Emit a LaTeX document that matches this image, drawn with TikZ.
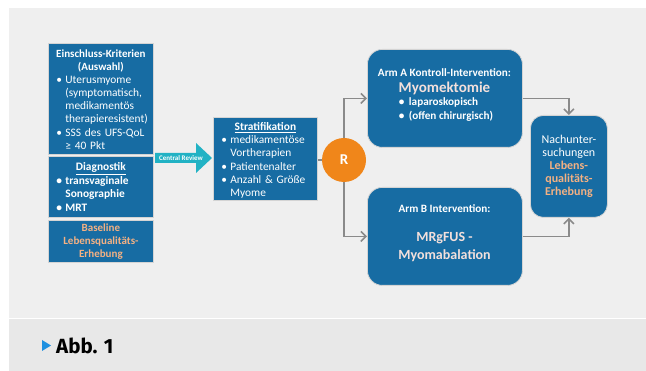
\documentclass[tikz,border=0pt]{standalone}
\usepackage{fontspec}
\setmainfont{Carlito}
\newfontfamily\capfont{Fira Sans}
\usetikzlibrary{arrows.meta}
\definecolor{boxblue}{HTML}{176CA3}
\definecolor{boxedge}{HTML}{D4D4D4}
\definecolor{bggray}{HTML}{EFEFEF}
\definecolor{capgray}{HTML}{E8E8E8}
\definecolor{conngray}{HTML}{8A8A8A}
\definecolor{rorange}{HTML}{F0861A}
\definecolor{peach}{HTML}{F4B183}
\definecolor{lightpeach}{HTML}{F3E0DC}
\definecolor{crcyan}{HTML}{22B2C4}
\definecolor{capblue}{HTML}{1E90E0}
\newcommand\bitem[1]{\par\noindent\makebox[9pt][l]{•}\begin{tabular}[t]{@{}l@{}}#1\end{tabular}\par}
\newcommand\ctrline[1]{\par\noindent\makebox[\linewidth]{#1}\par}
\begin{document}
\begin{tikzpicture}[x=1pt,y=-1pt,
  box/.style={draw=boxedge, line width=0.8pt, fill=boxblue, text=white, anchor=north west, inner sep=0pt, font=\fontsize{11.4}{13}\selectfont},
  rbox/.style={box, rounded corners=15pt},
  lbl/.style={text=white, inner sep=0pt},
  conn/.style={draw=conngray, line width=1.6pt},
  arr/.style={conn, -{Straight Barb[length=5pt,width=10pt]}}]
\useasboundingbox (0,0) rectangle (646,371);
\fill[white] (0,0) rectangle (646,371);
\fill[bggray] (9,8) rectangle (646,318);
\fill[capgray] (9,319) rectangle (646,371);

% left column
\node[box, minimum width=105pt, minimum height=111pt, text width=89pt] (eins) at (48,43)
  {\ctrline{\bfseries\fontsize{11}{13}\selectfont Einschluss-Kriterien}\ctrline{\bfseries\fontsize{11}{13}\selectfont (Auswahl)}%
   \bitem{Uterusmyome\\(symptomatisch,\\medikamentös\\therapieresistent)}%
   \bitem{SSS des UFS-QoL\\≥ 40 Pkt}};
\node[box, minimum width=105pt, minimum height=61pt, text width=89pt] (diag) at (48,156)
  {\ctrline{\bfseries\underline{Diagnostik}}\bfseries
   \bitem{transvaginale\\Sonographie}\bitem{MRT}};
\node[box, minimum width=105pt, minimum height=42pt, text width=95pt, align=center, text=peach, font=\bfseries\fontsize{11}{13}\selectfont] (base) at (48,220)
  {Baseline\\Lebensqualitäts-\\Erhebung};

% central review arrow
\fill[crcyan] (155,153) -- (196,153) -- (196,143) -- (212,158) -- (196,173) -- (196,163) -- (155,163) -- cycle;
\node[lbl, font=\bfseries\fontsize{7}{7}\selectfont] (cr) at (181,158) {Central Review};

% stratification
\node[box, minimum width=104pt, minimum height=83pt, text width=88pt] (strat) at (213,117)
  {\ctrline{\bfseries\underline{Stratifikation}}%
   \bitem{medikamentöse\\Vortherapien}\bitem{Patientenalter}\bitem{Anzahl \& Größe\\Myome}};

% randomisation
\node[circle, fill=rorange, minimum size=44pt, inner sep=0pt, text=white, font=\bfseries\fontsize{15}{15}\selectfont] (R) at (344,160) {R};

% arms
\node[rbox, minimum width=155pt, minimum height=98pt] (armA) at (367,49) {};
\node[lbl, font=\bfseries\fontsize{11.2}{12}\selectfont] (armAt) at (444.5,73) {Arm A Kontroll-Intervention:};
\node[lbl, font=\bfseries\fontsize{15}{16}\selectfont, text=lightpeach] (armAm) at (444.5,88) {Myomektomie};
\node[lbl, font=\bfseries\fontsize{11.2}{14}\selectfont, align=left] (armAb) at (446,110)
  {\makebox[10pt][l]{•}laparoskopisch\\\makebox[10pt][l]{•}(offen chirurgisch)};

\node[rbox, minimum width=155pt, minimum height=98pt] (armB) at (367,187) {};
\node[lbl, font=\bfseries\fontsize{11.2}{12}\selectfont] (armBt) at (444.5,209) {Arm B Intervention:};
\node[lbl, font=\bfseries\fontsize{14}{18}\selectfont, text=lightpeach, align=center] (armBm) at (444.5,247)
  {MRgFUS -\\Myomabalation};

% follow-up
\node[rbox, rounded corners=13pt, minimum width=77pt, minimum height=102pt, align=center, font=\fontsize{12}{13}\selectfont] (nach) at (530,115)
  {Nachunter-\\suchungen\\\textcolor{peach}{\bfseries Lebens-}\\\textcolor{peach}{\bfseries qualitäts-}\\\textcolor{peach}{\bfseries Erhebung}};

% connectors
\draw[conn] (strat.east |- R.west) -- (R.west);
\draw[arr] (R.north) |- (armA.west);
\draw[arr] (R.south) |- (armB.west);
\draw[arr] (armA.east) -| (nach.north);
\draw[arr] (armB.east) -| (nach.south);

% caption
\fill[capblue] (42,340) -- (51,345.5) -- (42,351) -- cycle;
\node[anchor=west, inner sep=0pt, font=\capfont\bfseries\fontsize{20.5}{20.5}\selectfont] (abb) at (56,346) {Abb. 1};
\end{tikzpicture}
\end{document}
